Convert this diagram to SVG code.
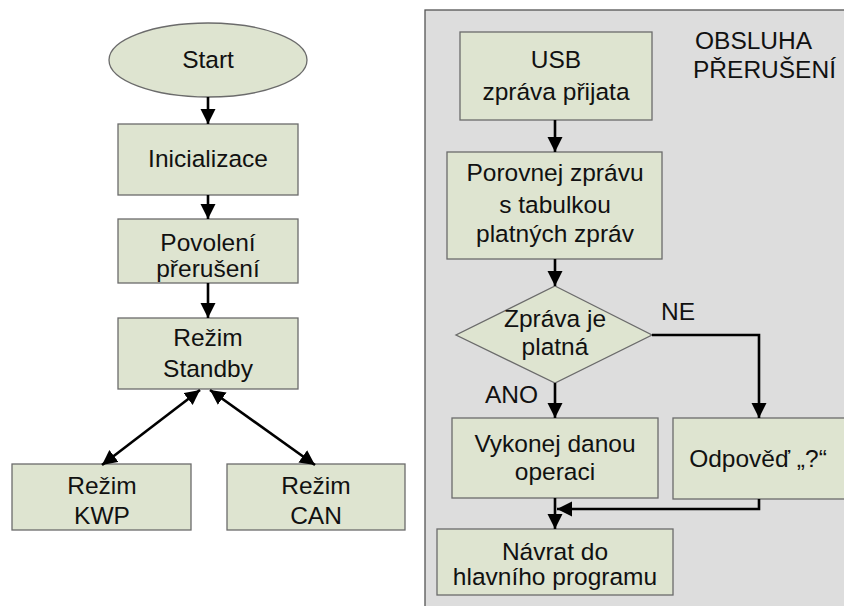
<svg xmlns="http://www.w3.org/2000/svg" width="844" height="606" viewBox="0 0 844 606">
  <style>
    .node { fill: #dee4d0; stroke: #6b6b6b; stroke-width: 1.3; }
    .panel { fill: #dddddd; stroke: #555555; stroke-width: 1.3; }
    .lbl { font-family: "Liberation Sans", Arial, sans-serif; font-size: 24.5px; fill: #111111; text-anchor: middle; }
    .free { font-family: "Liberation Sans", Arial, sans-serif; font-size: 24.5px; fill: #111111; }
    .wire { fill: none; stroke: #000000; stroke-width: 2.6; }
  </style>
  <defs>
    <marker id="head" markerUnits="userSpaceOnUse" markerWidth="16" markerHeight="16" refX="15" refY="7.5" orient="auto-start-reverse" viewBox="0 0 16 16">
      <path d="M0,0 L15,7.5 L0,15 z" fill="#000000"/>
    </marker>
  </defs>

  <!-- interrupt handler panel -->
  <rect id="panel" class="panel" x="425" y="10" width="430" height="610"/>
  <text class="free" x="695" y="49">OBSLUHA</text>
  <text class="free" x="693" y="78">PŘERUŠENÍ</text>

  <!-- main program -->
  <g id="start">
    <ellipse class="node" cx="208" cy="60" rx="99" ry="37"/>
    <text class="lbl" x="208" y="68">Start</text>
  </g>
  <g id="init">
    <rect class="node" x="118" y="124" width="180" height="71"/>
    <text class="lbl" x="208" y="167">Inicializace</text>
  </g>
  <g id="irq-enable">
    <rect class="node" x="118" y="219" width="180" height="64"/>
    <text class="lbl" x="208" y="251">Povolení</text>
    <text class="lbl" x="208" y="277">přerušení</text>
  </g>
  <g id="standby">
    <rect class="node" x="118" y="318" width="180" height="71"/>
    <text class="lbl" x="208" y="346">Režim</text>
    <text class="lbl" x="208" y="377">Standby</text>
  </g>
  <g id="kwp">
    <rect class="node" x="12" y="464" width="179" height="66"/>
    <text class="lbl" x="102" y="494">Režim</text>
    <text class="lbl" x="102" y="524">KWP</text>
  </g>
  <g id="can">
    <rect class="node" x="227" y="464" width="178" height="66"/>
    <text class="lbl" x="316" y="494">Režim</text>
    <text class="lbl" x="316" y="524">CAN</text>
  </g>

  <!-- interrupt service routine -->
  <g id="usb-rx">
    <rect class="node" x="460" y="32" width="192" height="88"/>
    <text class="lbl" x="556" y="68">USB</text>
    <text class="lbl" x="556" y="100">zpráva přijata</text>
  </g>
  <g id="compare">
    <rect class="node" x="447" y="152" width="215" height="107"/>
    <text class="lbl" x="555" y="181">Porovnej zprávu</text>
    <text class="lbl" x="555" y="213">s tabulkou</text>
    <text class="lbl" x="555" y="242">platných zpráv</text>
  </g>
  <g id="valid">
    <polygon class="node" points="555,286 652,335 555,383 456,335"/>
    <text class="lbl" x="555" y="327">Zpráva je</text>
    <text class="lbl" x="555" y="355">platná</text>
  </g>
  <g id="execute">
    <rect class="node" x="452" y="418" width="206" height="80"/>
    <text class="lbl" x="555" y="452">Vykonej danou</text>
    <text class="lbl" x="555" y="480">operaci</text>
  </g>
  <g id="reply">
    <rect class="node" x="673" y="418" width="172" height="81"/>
    <text class="lbl" x="758" y="467">Odpověď „?“</text>
  </g>
  <g id="return">
    <rect class="node" x="437" y="529" width="236" height="66"/>
    <text class="lbl" x="555" y="560">Návrat do</text>
    <text class="lbl" x="555" y="585">hlavního programu</text>
  </g>

  <!-- connectors -->
  <g id="connectors">
    <line class="wire" x1="208" y1="97" x2="208" y2="124" marker-end="url(#head)"/>
    <line class="wire" x1="208" y1="195" x2="208" y2="219" marker-end="url(#head)"/>
    <line class="wire" x1="208" y1="283" x2="208" y2="318" marker-end="url(#head)"/>
    <line class="wire" x1="200" y1="390" x2="102" y2="465" marker-start="url(#head)" marker-end="url(#head)"/>
    <line class="wire" x1="210" y1="390" x2="315" y2="465" marker-start="url(#head)" marker-end="url(#head)"/>

    <line class="wire" x1="555" y1="120" x2="555" y2="152" marker-end="url(#head)"/>
    <line class="wire" x1="555" y1="259" x2="555" y2="286" marker-end="url(#head)"/>
    <line class="wire" x1="555" y1="383" x2="555" y2="418" marker-end="url(#head)"/>
    <polyline class="wire" points="652,335 759,335 759,418" marker-end="url(#head)"/>
    <polyline class="wire" points="759,499 759,509 557,509" marker-end="url(#head)"/>
    <line class="wire" x1="555" y1="498" x2="555" y2="529" marker-end="url(#head)"/>
    <text class="free" x="485" y="403">ANO</text>
    <text class="free" x="661" y="320">NE</text>
  </g>
</svg>
